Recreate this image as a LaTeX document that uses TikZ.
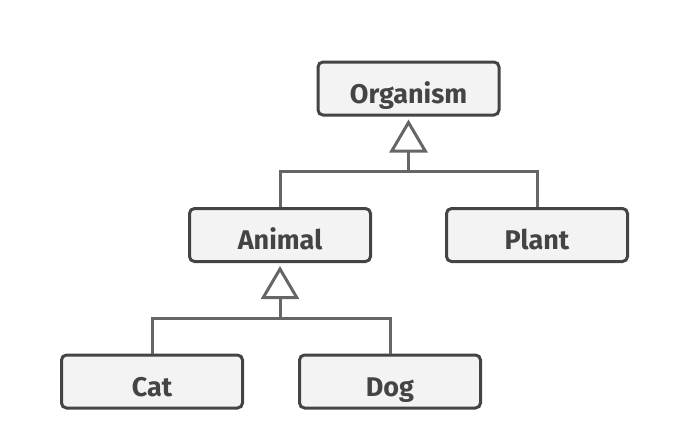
\documentclass[tikz,border=0pt]{standalone}
\usepackage{fontspec}
\setmainfont{Fira Sans}
\usetikzlibrary{arrows.meta}
\definecolor{boxborder}{HTML}{444444}
\definecolor{boxfill}{HTML}{F3F3F3}
\definecolor{linegray}{HTML}{666666}
\definecolor{textgray}{HTML}{444444}
\tikzset{
  cls/.style={draw=boxborder, fill=boxfill, line width=3pt, rounded corners=5pt,
    minimum width=181pt, minimum height=53pt, inner sep=0pt,
    text height=29pt, text depth=0pt,
    font=\fontsize{27}{32}\selectfont\bfseries, text=textgray},
  conn/.style={draw=linegray, line width=3pt},
  inherit/.style={conn, -{Triangle[open, length=33pt 0, width=38pt 0, line width=3pt]}},
}
\begin{document}
\begin{tikzpicture}[x=1pt, y=-1pt]
\useasboundingbox (0,0) rectangle (680,442);
\node[cls] (org) at (408.5,88.5) {Organism};
\node[cls] (animal) at (280,235) {Animal};
\node[cls] (plant) at (537,235) {Plant};
\node[cls] (cat) at (152,381.5) {Cat};
\node[cls] (dog) at (390,381.5) {Dog};
\coordinate (j1) at (org.south |- 0,171);
\coordinate (j2) at (animal.south |- 0,318);
\draw[conn] (animal.north) |- (j1) -| (plant.north);
\draw[inherit] (j1) -- ([yshift=-3pt]org.south);
\draw[conn] (cat.north) |- (j2) -| (dog.north);
\draw[inherit] (j2) -- ([yshift=-3pt]animal.south);
\end{tikzpicture}
\end{document}
